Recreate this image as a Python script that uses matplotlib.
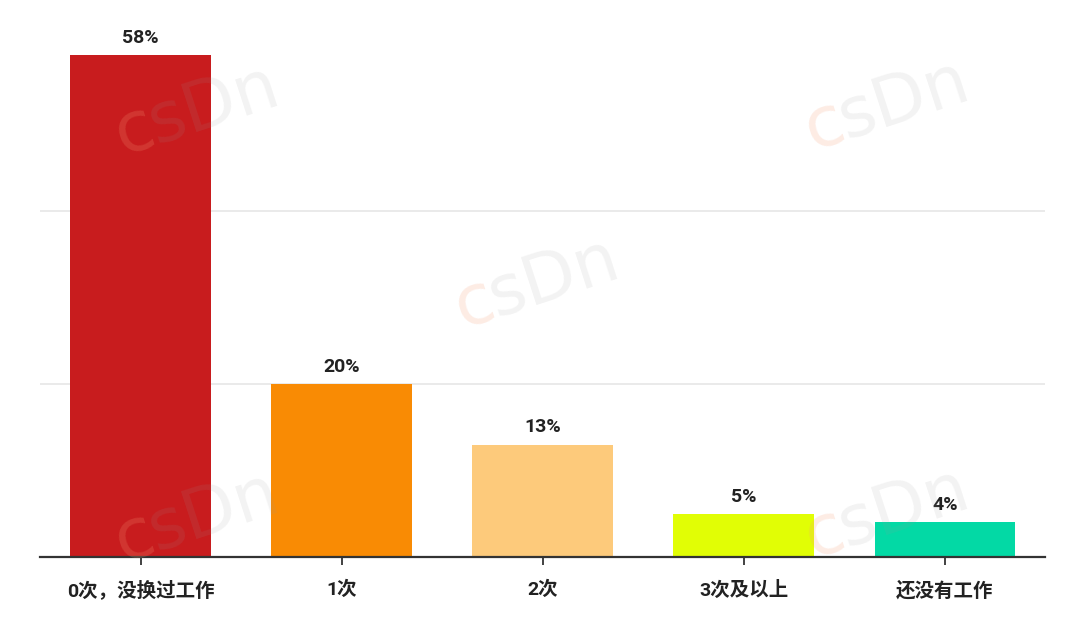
import matplotlib
matplotlib.use("Agg")
import matplotlib.pyplot as plt
import matplotlib.transforms as mtransforms
import numpy as np

categories = ["0次，没换过工作", "1次", "2次", "3次及以上", "还没有工作"]
values = [58, 20, 13, 5, 4]
colors = ["#c81c1e", "#f98b04", "#fdca7b", "#e1fe05", "#03d9a5"]

plt.rcParams['font.family'] = ['Roboto', 'Noto Sans CJK SC', 'DejaVu Sans']

fig = plt.figure(figsize=(10.8, 6.28), dpi=100)
ax = fig.add_axes([40/1080, 1-557/628, (1045.5-40)/1080, (557-38)/628])

x = list(range(len(categories)))
ax.bar(x, values, width=0.7, color=colors, zorder=3)
for xi, v in zip(x, values):
    ax.text(xi, v + 1.4, f"{v}%", ha="center", va="baseline", fontsize=14,
            fontweight="bold", color="#222222", clip_on=False)

ax.set_xlim(-0.5, 4.5)
ax.set_ylim(0, 60)
ax.set_yticks([20, 40])
ax.yaxis.grid(True, color="#e6e6e6", linewidth=1.2, zorder=0)
ax.tick_params(axis="y", length=0, labelleft=False)
ax.set_xticks(x)
ax.set_xticklabels(categories, fontsize=14, fontweight="bold", color="#222222")
ax.tick_params(axis="x", length=6, width=1.3, color="#333333", pad=11)
for s in ["top", "right", "left"]:
    ax.spines[s].set_visible(False)
ax.spines["bottom"].set_color("#333333")
ax.spines["bottom"].set_linewidth(1.6)
ax.spines["bottom"].set_zorder(4)

# watermarks
rot = 18
fs = 50
cw = 0.52 * fs
for (px, py) in [(122, 155), (812, 150), (462, 328), (122, 562), (812, 558)]:
    fx, fy = px/1080, 1-py/628
    fig.text(fx, fy, "c", fontsize=fs, color="#f6a07a", alpha=0.2,
             rotation=rot, rotation_mode="anchor", ha="left", va="baseline",
             family="DejaVu Sans")
    off = mtransforms.ScaledTranslation(cw*np.cos(np.radians(rot))/72,
                                        cw*np.sin(np.radians(rot))/72,
                                        fig.dpi_scale_trans)
    fig.text(fx, fy, "sDn", fontsize=fs, color="#9a9a9a", alpha=0.12,
             rotation=rot, rotation_mode="anchor", ha="left", va="baseline",
             family="DejaVu Sans", transform=fig.transFigure + off)

fig.savefig("out.png", dpi=100)
